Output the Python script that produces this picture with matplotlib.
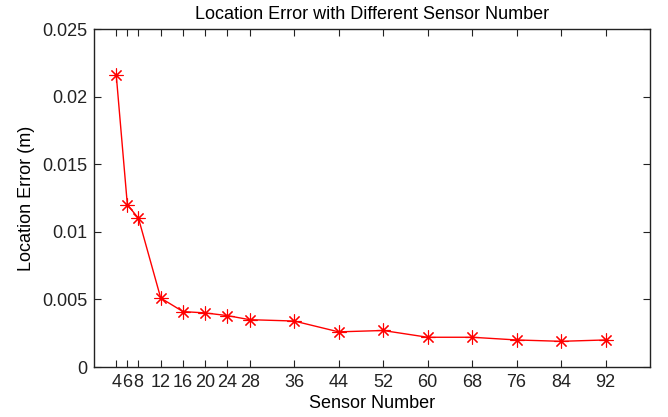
import matplotlib
matplotlib.use("Agg")
import matplotlib.pyplot as plt

sensor_number = [4, 6, 8, 12, 16, 20, 24, 28, 36, 44, 52, 60, 68, 76, 84, 92]
location_error = [0.0216, 0.0120, 0.0110, 0.0051, 0.0041, 0.0040, 0.0038, 0.0035,
                  0.0034, 0.0026, 0.0027, 0.0022, 0.0022, 0.0020, 0.0019, 0.0020]
x_ticks = [4, 6, 8, 12, 16, 20, 24, 28, 36, 44, 52, 60, 68, 76, 84, 92]
x_ticklabels = ["4", "6", "8", "12", "16", "20", "24", "28", "36", "44", "52", "60", "68", "76", "84", "92"]
y_ticks = [0, 0.005, 0.01, 0.015, 0.02, 0.025]
y_ticklabels = ["0", "0.005", "0.01", "0.015", "0.02", "0.025"]

plt.rcParams['font.family'] = ['Liberation Sans', 'DejaVu Sans']

fig = plt.figure(figsize=(6.68, 4.17), dpi=100)
ax = fig.add_axes([94/668, 1 - 367/417, (650-94)/668, (367-29)/417])

ax.plot(sensor_number, location_error, color='red', linewidth=1.0,
        marker=(8, 2, 0), markersize=10, markeredgewidth=0.8)

ax.set_xlim(0, 100)
ax.set_ylim(0, 0.025)
ax.set_xticks(x_ticks)
ax.set_xticklabels(x_ticklabels)
ax.set_yticks(y_ticks)
ax.set_yticklabels(y_ticklabels)
ax.tick_params(direction='in', length=5, width=0.8, top=True, right=True,
               labelsize=13, pad=5, colors='#222222')
for s in ax.spines.values():
    s.set_linewidth(1.0)
    s.set_color('#222222')

ax.set_title("Location Error with Different Sensor Number", fontsize=13, pad=7)
ax.set_xlabel("Sensor Number", fontsize=13, labelpad=3)
ax.set_ylabel("Location Error (m)", fontsize=13, labelpad=5)

fig.savefig("out.png", dpi=100)
